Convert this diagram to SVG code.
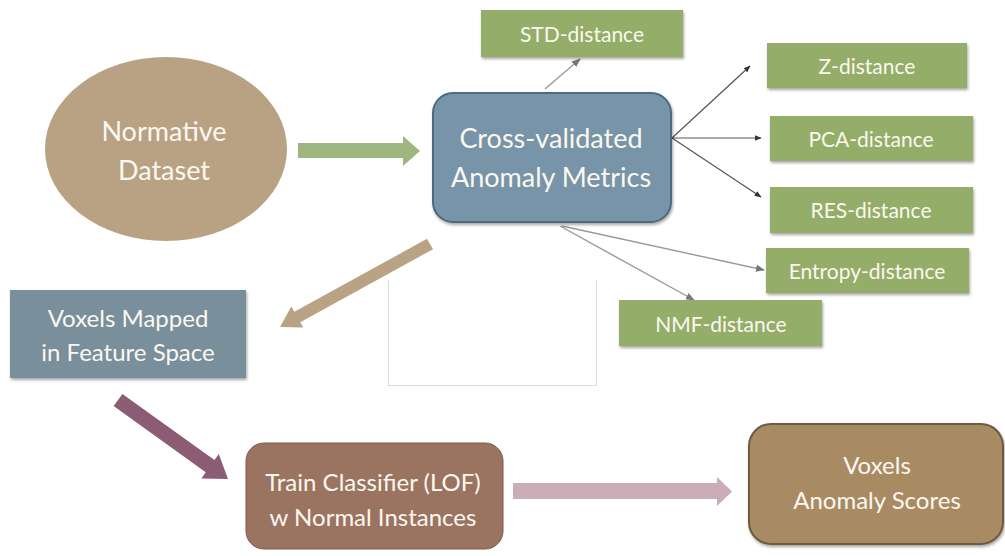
<svg xmlns="http://www.w3.org/2000/svg" width="1005" height="556" viewBox="0 0 1005 556">
  <defs>
    <filter id="shadow" x="-10%" y="-10%" width="125%" height="135%">
      <feDropShadow dx="1" dy="2" stdDeviation="1.5" flood-color="#000" flood-opacity="0.35"/>
    </filter>
    <marker id="tip" viewBox="0 0 10 10" refX="9" refY="5" markerWidth="7" markerHeight="7" orient="auto" markerUnits="userSpaceOnUse">
      <path d="M0,1 L10,5 L0,9 z" fill="#333"/>
    </marker>
    <marker id="tipGrey" viewBox="0 0 10 10" refX="9" refY="5" markerWidth="9" markerHeight="9" orient="auto" markerUnits="userSpaceOnUse">
      <path d="M0,1 L10,5 L0,9 z" fill="#777"/>
    </marker>
  </defs>
  <style>
    text { font-family: Lato, "Open Sans", sans-serif; fill: #fbf8f0; text-anchor: middle; }
    .big { font-size: 27px; }
    .mid { font-size: 24px; }
    .small { font-size: 21px; }
    .metric { fill: #94ad69; filter: url(#shadow); }
    .thin { stroke: #555; stroke-width: 1.2; fill: none; }
    .thinGrey { stroke: #999; stroke-width: 1.4; fill: none; }
  </style>

  <rect width="1005" height="556" fill="#fff"/>

  <!-- empty frame below the metrics -->
  <path d="M388.5,280 V385.5 H596.5 V280" fill="none" stroke="#dcdcdc" stroke-width="1.2"/>

  <g id="connectors">
    <!-- block arrows -->
    <polygon points="298,143 403,143 403,136 420,151 403,166 403,158 298,158" fill="#9fb681"/>
    <polygon points="427,238.8 294.3,311.8 291.3,306.6 280,327 303.3,327.4 300.3,322.2 433,249.2" fill="#b9a384"/>
    <polygon points="122.4,393.9 214.5,460.1 218.8,454 228,479 201.4,478.4 205.7,472.3 113.6,406.1" fill="#8b5c74"/>
    <polygon points="513,483 717,483 717,477 732,491.5 717,506 717,499 513,499" fill="#cbadb8"/>
    <!-- thin arrows to the metric boxes -->
    <line class="thinGrey" x1="545" y1="89" x2="580" y2="59" marker-end="url(#tipGrey)"/>
    <line class="thin" x1="672" y1="138" x2="750" y2="66" marker-end="url(#tip)"/>
    <line class="thin" x1="672" y1="138" x2="761" y2="138" marker-end="url(#tip)"/>
    <line class="thin" x1="672" y1="138" x2="761" y2="197" marker-end="url(#tip)"/>
    <line class="thinGrey" x1="562" y1="226" x2="764" y2="270" marker-end="url(#tipGrey)"/>
    <line class="thinGrey" x1="560" y1="226" x2="694" y2="300" marker-end="url(#tipGrey)"/>
  </g>

  <g id="normative-dataset">
    <ellipse cx="166" cy="149" rx="121" ry="92" fill="#b8a283"/>
    <text class="big" x="164" y="141">Normative</text>
    <text class="big" x="164" y="180">Dataset</text>
  </g>

  <g id="anomaly-metrics">
    <rect x="433" y="93" width="238" height="129" rx="20" fill="#7894a8" stroke="#4e6a80" stroke-width="2" filter="url(#shadow)"/>
    <text class="big" x="551" y="148">Cross-validated</text>
    <text class="big" x="551" y="187">Anomaly Metrics</text>
  </g>

  <g id="std-distance">
    <rect class="metric" x="481" y="10" width="202" height="47"/>
    <text class="small" x="582" y="42">STD-distance</text>
  </g>
  <g id="z-distance">
    <rect class="metric" x="767" y="43" width="200" height="45"/>
    <text class="small" x="867" y="74">Z-distance</text>
  </g>
  <g id="pca-distance">
    <rect class="metric" x="770" y="116" width="203" height="45"/>
    <text class="small" x="871" y="147">PCA-distance</text>
  </g>
  <g id="res-distance">
    <rect class="metric" x="770" y="187" width="203" height="46"/>
    <text class="small" x="871" y="218">RES-distance</text>
  </g>
  <g id="entropy-distance">
    <rect class="metric" x="766" y="248" width="203" height="45"/>
    <text class="small" x="867" y="279">Entropy-distance</text>
  </g>
  <g id="nmf-distance">
    <rect class="metric" x="619" y="300" width="203" height="46"/>
    <text class="small" x="721" y="332">NMF-distance</text>
  </g>

  <g id="voxels-mapped">
    <rect x="10" y="290" width="236" height="88" fill="#7a8f9c" filter="url(#shadow)"/>
    <text class="mid" x="128" y="327">Voxels Mapped</text>
    <text class="mid" x="128" y="361">in Feature Space</text>
  </g>

  <g id="train-classifier">
    <rect x="246" y="443" width="257" height="106" rx="18" fill="#9b7361" stroke="#7d5a4a" stroke-width="1"/>
    <text class="mid" x="373" y="491">Train Classifier (LOF)</text>
    <text class="mid" x="373" y="526">w Normal Instances</text>
  </g>

  <g id="anomaly-scores">
    <rect x="749" y="424" width="254" height="120" rx="22" fill="#a98b63" stroke="#6e5a40" stroke-width="2" filter="url(#shadow)"/>
    <text class="mid" x="877" y="474">Voxels</text>
    <text class="mid" x="877" y="509">Anomaly Scores</text>
  </g>
</svg>
